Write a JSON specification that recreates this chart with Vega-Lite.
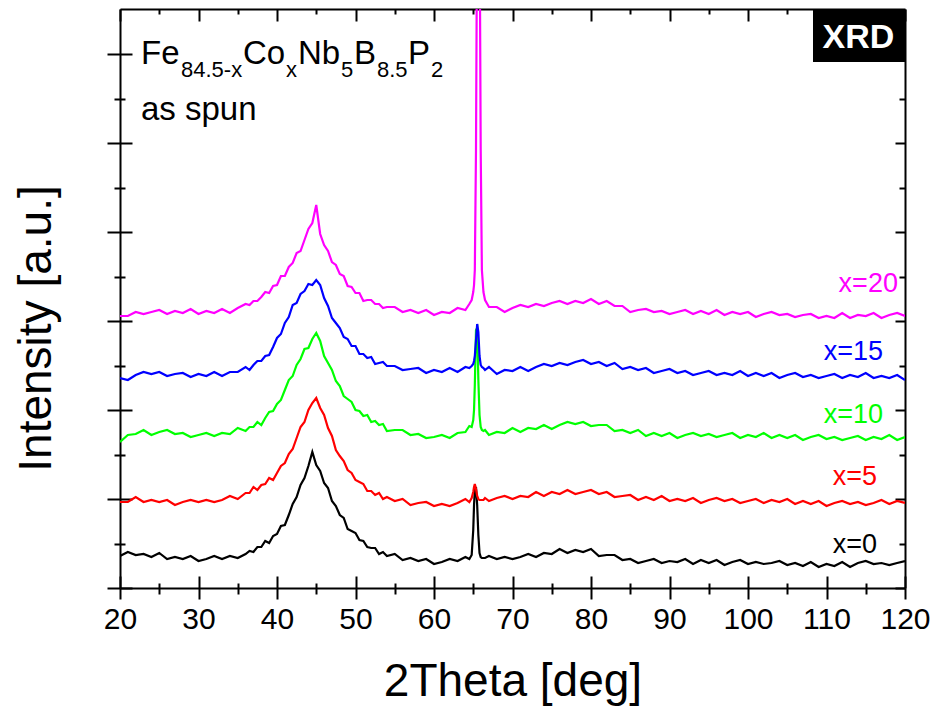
{
"$schema": "https://vega.github.io/schema/vega-lite/v6.json",
"width": 785, "height": 579,
"autosize": "none",
"padding": {"left": 120, "top": 9, "right": 31, "bottom": 120},
"background": "white",
"config": {"view": {"stroke": null}, "font": "Liberation Sans", "text": {"font": "Liberation Sans"},
  "axis": {"grid": false, "domainColor": "black", "tickColor": "black", "domainWidth": 2, "tickWidth": 2, "zindex": 1, "labelFont": "Liberation Sans", "titleFont": "Liberation Sans"}},
"resolve": {"axis": {"x": "independent", "y": "independent"}},
"layer": [
{
 "data": {"values": [
{"t":20,"x00":32,"x05":86,"x10":146,"x15":210,"x20":272},
{"t":21,"x00":36,"x05":86,"x10":153,"x15":208,"x20":272},
{"t":22,"x00":33,"x05":91,"x10":154,"x15":213,"x20":276},
{"t":23,"x00":34,"x05":86,"x10":158,"x15":216,"x20":274},
{"t":24,"x00":31,"x05":88,"x10":153,"x15":214,"x20":276},
{"t":25,"x00":35,"x05":86,"x10":156,"x15":216,"x20":278},
{"t":26,"x00":29,"x05":88,"x10":158,"x15":212,"x20":274},
{"t":27,"x00":31,"x05":83,"x10":154,"x15":214,"x20":277},
{"t":28,"x00":29,"x05":86,"x10":155,"x15":215,"x20":275},
{"t":29,"x00":32,"x05":88,"x10":151,"x15":211,"x20":279},
{"t":30,"x00":27,"x05":86,"x10":153,"x15":214,"x20":274},
{"t":31,"x00":29,"x05":88,"x10":155,"x15":212,"x20":277},
{"t":32,"x00":32,"x05":86,"x10":152,"x15":216,"x20":275},
{"t":33,"x00":29,"x05":88,"x10":155,"x15":212,"x20":279},
{"t":34,"x00":32,"x05":92,"x10":154,"x15":216,"x20":275},
{"t":35,"x00":30,"x05":89,"x10":160,"x15":216,"x20":280},
{"t":36,"x00":34,"x05":95,"x10":157,"x15":221,"x20":284},
{"t":36.5,"x00":37,"x05":95,"x10":161,"x15":218,"x20":283},
{"t":37,"x00":36,"x05":101,"x10":161,"x15":223,"x20":287},
{"t":37.5,"x00":41,"x05":98,"x10":166,"x15":227,"x20":287},
{"t":38,"x00":41,"x05":103,"x10":163,"x15":227,"x20":291},
{"t":38.5,"x00":47,"x05":104,"x10":170,"x15":232,"x20":296},
{"t":39,"x00":45,"x05":110,"x10":176,"x15":233,"x20":295},
{"t":39.5,"x00":52,"x05":108,"x10":177,"x15":241,"x20":302},
{"t":40,"x00":54,"x05":115,"x10":184,"x15":250,"x20":303},
{"t":40.5,"x00":62,"x05":122,"x10":188,"x15":254,"x20":312},
{"t":41,"x00":63,"x05":125,"x10":198,"x15":265,"x20":312},
{"t":41.5,"x00":73,"x05":134,"x10":208,"x15":271,"x20":321},
{"t":42,"x00":84,"x05":139,"x10":212,"x15":283,"x20":325},
{"t":42.5,"x00":91,"x05":150,"x10":223,"x15":285,"x20":335},
{"t":43,"x00":103,"x05":161,"x10":229,"x15":294,"x20":337},
{"t":43.5,"x00":110,"x05":166,"x10":239,"x15":297,"x20":348},
{"t":44,"x00":122,"x05":178,"x10":240,"x15":304,"x20":359},
{"t":44.5,"x00":136,"x05":185,"x10":249,"x15":303,"x20":365},
{"t":45,"x00":123,"x05":190,"x10":255,"x15":308,"x20":383},
{"t":45.5,"x00":117,"x05":180,"x10":247,"x15":303,"x20":354},
{"t":46,"x00":105,"x05":173,"x10":232,"x15":290,"x20":343},
{"t":46.5,"x00":100,"x05":160,"x10":225,"x15":282,"x20":337},
{"t":47,"x00":87,"x05":152,"x10":218,"x15":270,"x20":326},
{"t":47.5,"x00":82,"x05":138,"x10":207,"x15":265,"x20":323},
{"t":48,"x00":73,"x05":132,"x10":202,"x15":260,"x20":314},
{"t":48.5,"x00":70,"x05":127,"x10":192,"x15":251,"x20":312},
{"t":49,"x00":59,"x05":118,"x10":189,"x15":249,"x20":302},
{"t":49.5,"x00":57,"x05":115,"x10":186,"x15":242,"x20":301},
{"t":50,"x00":55,"x05":108,"x10":178,"x15":242,"x20":295},
{"t":50.5,"x00":48,"x05":106,"x10":177,"x15":234,"x20":295},
{"t":51,"x00":47,"x05":104,"x10":172,"x15":234,"x20":287},
{"t":51.5,"x00":41,"x05":97,"x10":173,"x15":230,"x20":288},
{"t":52,"x00":40,"x05":97,"x10":166,"x15":231,"x20":288},
{"t":52.5,"x00":40,"x05":93,"x10":167,"x15":224,"x20":284},
{"t":53,"x00":34,"x05":95,"x10":163,"x15":225,"x20":284},
{"t":53.5,"x00":36,"x05":89,"x10":164,"x15":226,"x20":280},
{"t":54,"x00":32,"x05":91,"x10":157,"x15":222,"x20":281},
{"t":55,"x00":34,"x05":87,"x10":158,"x15":222,"x20":281},
{"t":56,"x00":28,"x05":89,"x10":158,"x15":218,"x20":276},
{"t":57,"x00":30,"x05":83,"x10":153,"x15":219,"x20":278},
{"t":58,"x00":27,"x05":85,"x10":154,"x15":220,"x20":275},
{"t":59,"x00":29,"x05":86,"x10":150,"x15":215,"x20":278},
{"t":60,"x00":24,"x05":82,"x10":151,"x15":218,"x20":273},
{"t":61,"x00":26,"x05":84,"x10":153,"x15":216,"x20":276},
{"t":62,"x00":29,"x05":82,"x10":150,"x15":220,"x20":275},
{"t":63,"x00":27,"x05":85,"x10":155,"x15":216,"x20":280},
{"t":64,"x00":31,"x05":89,"x10":156,"x15":221,"x20":278},
{"t":64.5,"x00":29,"x05":86,"x10":162,"x15":220,"x20":284},
{"t":64.8,"x00":33,"x05":90,"x10":161,"x15":222,"x20":288},
{"t":65,"x00":58,"x05":96,"x10":168,"x15":224,"x20":296},
{"t":65.1,"x00":83,"x05":101,"x10":178,"x15":227,"x20":303},
{"t":65.2,"x00":98,"x05":104,"x10":203,"x15":232,"x20":318},
{"t":65.35,"x00":101,"x05":99,"x10":258,"x15":248,"x20":438},
{"t":65.5,"x00":83,"x05":92,"x10":260,"x15":264,"x20":688},
{"t":65.65,"x00":53,"x05":89,"x10":208,"x15":256,"x20":888},
{"t":65.8,"x00":35,"x05":88,"x10":173,"x15":232,"x20":688},
{"t":65.95,"x00":31,"x05":88,"x10":161,"x15":223,"x20":438},
{"t":66.1,"x00":30,"x05":88,"x10":158,"x15":221,"x20":318},
{"t":66.3,"x00":30,"x05":88,"x10":157,"x15":220,"x20":296},
{"t":66.5,"x00":30,"x05":90,"x10":158,"x15":218,"x20":288},
{"t":67,"x00":32,"x05":87,"x10":153,"x15":221,"x20":281},
{"t":68,"x00":29,"x05":90,"x10":156,"x15":214,"x20":281},
{"t":69,"x00":31,"x05":92,"x10":155,"x15":218,"x20":276},
{"t":70,"x00":29,"x05":89,"x10":160,"x15":217,"x20":280},
{"t":71,"x00":31,"x05":92,"x10":156,"x15":221,"x20":283},
{"t":72,"x00":34,"x05":91,"x10":160,"x15":217,"x20":281},
{"t":73,"x00":31,"x05":96,"x10":159,"x15":221,"x20":284},
{"t":74,"x00":35,"x05":92,"x10":163,"x15":224,"x20":282},
{"t":75,"x00":34,"x05":96,"x10":159,"x15":222,"x20":285},
{"t":76,"x00":39,"x05":94,"x10":163,"x15":225,"x20":287},
{"t":77,"x00":35,"x05":98,"x10":166,"x15":223,"x20":284},
{"t":78,"x00":38,"x05":94,"x10":164,"x15":226,"x20":287},
{"t":79,"x00":36,"x05":96,"x10":166,"x15":228,"x20":285},
{"t":80,"x00":39,"x05":98,"x10":162,"x15":224,"x20":289},
{"t":81,"x00":32,"x05":94,"x10":163,"x15":226,"x20":284},
{"t":82,"x00":33,"x05":96,"x10":163,"x15":222,"x20":287},
{"t":83,"x00":33,"x05":91,"x10":157,"x15":225,"x20":282},
{"t":84,"x00":28,"x05":92,"x10":158,"x15":219,"x20":282},
{"t":85,"x00":29,"x05":93,"x10":155,"x15":221,"x20":276},
{"t":86,"x00":25,"x05":88,"x10":158,"x15":218,"x20":278},
{"t":87,"x00":27,"x05":91,"x10":152,"x15":220,"x20":279},
{"t":88,"x00":29,"x05":88,"x10":155,"x15":215,"x20":276},
{"t":89,"x00":25,"x05":92,"x10":152,"x15":217,"x20":277},
{"t":90,"x00":27,"x05":87,"x10":155,"x15":219,"x20":274},
{"t":91,"x00":26,"x05":89,"x10":150,"x15":215,"x20":276},
{"t":92,"x00":29,"x05":87,"x10":153,"x15":217,"x20":278},
{"t":93,"x00":24,"x05":90,"x10":155,"x15":213,"x20":274},
{"t":94,"x00":28,"x05":85,"x10":152,"x15":215,"x20":277},
{"t":95,"x00":25,"x05":88,"x10":154,"x15":217,"x20":274},
{"t":96,"x00":28,"x05":90,"x10":151,"x15":213,"x20":278},
{"t":97,"x00":23,"x05":87,"x10":153,"x15":215,"x20":273},
{"t":98,"x00":26,"x05":89,"x10":155,"x15":213,"x20":276},
{"t":99,"x00":28,"x05":85,"x10":150,"x15":217,"x20":274},
{"t":100,"x00":24,"x05":87,"x10":153,"x15":212,"x20":276},
{"t":101,"x00":26,"x05":89,"x10":151,"x15":215,"x20":271},
{"t":102,"x00":24,"x05":85,"x10":155,"x15":212,"x20":274},
{"t":103,"x00":25,"x05":88,"x10":150,"x15":215,"x20":276},
{"t":104,"x00":27,"x05":86,"x10":153,"x15":210,"x20":273},
{"t":105,"x00":23,"x05":89,"x10":150,"x15":213,"x20":274},
{"t":106,"x00":25,"x05":84,"x10":153,"x15":215,"x20":271},
{"t":107,"x00":22,"x05":87,"x10":148,"x15":211,"x20":273},
{"t":108,"x00":26,"x05":84,"x10":151,"x15":213,"x20":274},
{"t":109,"x00":21,"x05":87,"x10":153,"x15":210,"x20":270},
{"t":110,"x00":24,"x05":82,"x10":149,"x15":212,"x20":272},
{"t":111,"x00":22,"x05":85,"x10":151,"x15":214,"x20":270},
{"t":112,"x00":26,"x05":87,"x10":148,"x15":210,"x20":275},
{"t":113,"x00":21,"x05":84,"x10":150,"x15":213,"x20":270},
{"t":114,"x00":25,"x05":86,"x10":152,"x15":211,"x20":273},
{"t":115,"x00":27,"x05":83,"x10":148,"x15":215,"x20":272},
{"t":116,"x00":24,"x05":85,"x10":151,"x15":210,"x20":275},
{"t":117,"x00":25,"x05":88,"x10":149,"x15":212,"x20":270},
{"t":118,"x00":23,"x05":84,"x10":153,"x15":210,"x20":273},
{"t":119,"x00":25,"x05":87,"x10":148,"x15":213,"x20":275},
{"t":120,"x00":27,"x05":85,"x10":151,"x15":208,"x20":272}
 ]},
 "transform": [{"fold": ["x00","x05","x10","x15","x20"], "as": ["series","intensity"]}],
 "mark": {"type": "line", "clip": true, "strokeWidth": 2.2},
 "encoding": {
  "x": {"field": "t", "type": "quantitative", "scale": {"domain": [20,120], "nice": false, "zero": false},
   "axis": {"orient": "bottom", "values": [20,25,30,35,40,45,50,55,60,65,70,75,80,85,90,95,100,105,110,115,120],
     "tickSize": {"condition": {"test": "datum.value % 10 === 0", "value": 11}, "value": 6},
     "labelExpr": "datum.value % 10 === 0 ? datum.label : ''",
     "labelFont": "Liberation Sans Narrow, Arial Narrow, Liberation Sans",
     "labelFontSize": 30, "labelColor": "black", "labelPadding": 29, "labelBaseline": "alphabetic", "labelOverlap": false, "labelFlush": false,
     "title": "2Theta [deg]", "titleFontSize": 46, "titleFontWeight": "normal", "titleColor": "black",
     "titleX": 392.5, "titleY": 107, "titleAlign": "center", "titleBaseline": "alphabetic", "titleAngle": 0}},
  "y": {"field": "intensity", "type": "quantitative", "scale": {"domain": [0,579], "nice": false, "zero": false},
   "axis": {"orient": "left", "values": [0,44.46,88.92,133.38,177.84,222.3,266.76,311.22,355.68,400.14,444.6,489.06,533.52],
     "tickSize": {"condition": {"test": "round(datum.value/44.46) % 2 === 0", "value": 13}, "value": 6},
     "labels": false,
     "title": "Intensity [a.u.]", "titleFontSize": 46, "titleFontWeight": "normal", "titleColor": "black",
     "titleX": -70, "titleY": 319, "titleAngle": 270, "titleAlign": "center", "titleBaseline": "alphabetic"}},
  "color": {"field": "series", "type": "nominal", "scale": {"domain": ["x00","x05","x10","x15","x20"], "range": ["#000000","#ff0000","#00ff00","#0000ff","#ff00ff"]}, "legend": null}
 }
},
{
 "data": {"values": [{"x1": 108.28, "x2": 120, "y1": 526, "y2": 579}]},
 "mark": {"type": "rect", "color": "black"},
 "encoding": {
  "x": {"field": "x1", "type": "quantitative", "scale": {"domain": [20,120], "nice": false, "zero": false},
   "axis": {"orient": "bottom", "values": [20,25,30,35,40,45,50,55,60,65,70,75,80,85,90,95,100,105,110,115,120],
     "tickSize": {"condition": {"test": "datum.value % 10 === 0", "value": -12}, "value": -5},
     "labels": false, "domain": false, "title": null}},
  "x2": {"field": "x2"},
  "y": {"field": "y1", "type": "quantitative", "scale": {"domain": [0,579], "nice": false, "zero": false},
   "axis": {"orient": "left", "values": [0,44.46,88.92,133.38,177.84,222.3,266.76,311.22,355.68,400.14,444.6,489.06,533.52],
     "tickSize": {"condition": {"test": "round(datum.value/44.46) % 2 === 0", "value": -12}, "value": -5},
     "labels": false, "domain": false, "title": null}},
  "y2": {"field": "y2"}
 }
},
{
 "data": {"values": [{"t": 114.07, "h": 540, "txt": "XRD"}]},
 "mark": {"type": "text", "color": "white", "fontWeight": "bold", "fontSize": 34, "align": "center", "baseline": "alphabetic"},
 "encoding": {
  "x": {"field": "t", "type": "quantitative", "scale": {"domain": [20,120], "nice": false, "zero": false},
   "axis": {"orient": "top", "values": [20,25,30,35,40,45,50,55,60,65,70,75,80,85,90,95,100,105,110,115,120],
     "tickSize": {"condition": {"test": "datum.value % 10 === 0", "value": -12}, "value": -5},
     "labels": false, "domain": true, "title": null}},
  "y": {"field": "h", "type": "quantitative", "scale": {"domain": [0,579], "nice": false, "zero": false},
   "axis": {"orient": "right", "values": [0,44.46,88.92,133.38,177.84,222.3,266.76,311.22,355.68,400.14,444.6,489.06,533.52],
     "tickSize": {"condition": {"test": "round(datum.value/44.46) % 2 === 0", "value": -10}, "value": -6},
     "labels": false, "domain": true, "title": null}},
  "text": {"field": "txt"}
 }
},
{
 "data": {"values": [
  {"t": 22.675, "h": 524, "txt": "Fe"},
  {"t": 35.67, "h": 524, "txt": "Co"},
  {"t": 42.68, "h": 524, "txt": "Nb"},
  {"t": 49.81, "h": 524, "txt": "B"},
  {"t": 56.69, "h": 524, "txt": "P"},
  {"t": 22.675, "h": 468, "txt": "as spun"}
 ]},
 "mark": {"type": "text", "color": "black", "fontSize": 33, "align": "left", "baseline": "alphabetic"},
 "encoding": {
  "x": {"field": "t", "type": "quantitative", "scale": {"domain": [20,120], "nice": false, "zero": false}, "axis": null},
  "y": {"field": "h", "type": "quantitative", "scale": {"domain": [0,579], "nice": false, "zero": false}, "axis": null},
  "text": {"field": "txt"}
 }
},
{
 "data": {"values": [
  {"t": 27.77, "h": 511, "txt": "84.5-x"},
  {"t": 41.15, "h": 511, "txt": "x"},
  {"t": 48.15, "h": 511, "txt": "5"},
  {"t": 52.74, "h": 511, "txt": "8.5"},
  {"t": 59.62, "h": 511, "txt": "2"}
 ]},
 "mark": {"type": "text", "color": "black", "fontSize": 22, "align": "left", "baseline": "alphabetic"},
 "encoding": {
  "x": {"field": "t", "type": "quantitative", "scale": {"domain": [20,120], "nice": false, "zero": false}, "axis": null},
  "y": {"field": "h", "type": "quantitative", "scale": {"domain": [0,579], "nice": false, "zero": false}, "axis": null},
  "text": {"field": "txt"}
 }
},
{
 "data": {"values": [
  {"t": 116.43, "h": 35, "lab": "x=0", "series": "x00"},
  {"t": 116.43, "h": 103, "lab": "x=5", "series": "x05"},
  {"t": 117.2, "h": 165, "lab": "x=10", "series": "x10"},
  {"t": 117.2, "h": 228, "lab": "x=15", "series": "x15"},
  {"t": 119.1, "h": 296, "lab": "x=20", "series": "x20"}
 ]},
 "mark": {"type": "text", "fontSize": 27, "align": "right", "baseline": "alphabetic"},
 "encoding": {
  "x": {"field": "t", "type": "quantitative", "scale": {"domain": [20,120], "nice": false, "zero": false}, "axis": null},
  "y": {"field": "h", "type": "quantitative", "scale": {"domain": [0,579], "nice": false, "zero": false}, "axis": null},
  "text": {"field": "lab"},
  "color": {"field": "series", "type": "nominal", "scale": {"domain": ["x00","x05","x10","x15","x20"], "range": ["#000000","#ff0000","#00ff00","#0000ff","#ff00ff"]}, "legend": null}
 }
}
]
}
